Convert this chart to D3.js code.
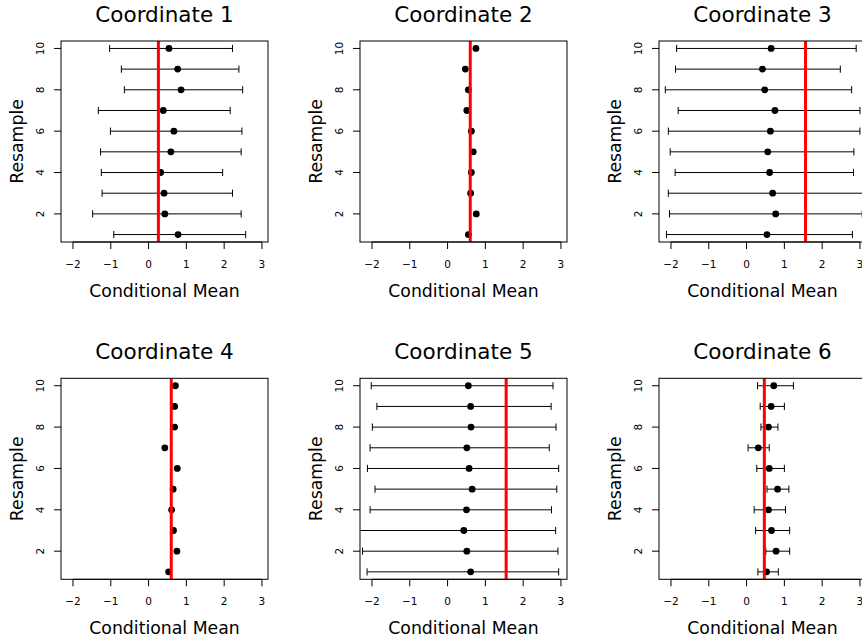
<!DOCTYPE html>
<html>
<head>
<meta charset="utf-8">
<script src="https://cdn.jsdelivr.net/npm/d3@7"></script>
<style>
  body { margin: 0; background: #fff; }
  text { font-family: "DejaVu Sans", sans-serif; fill: #000; }
</style>
</head>
<body>
<div id="chart"></div>
<script>
// resample index 1..10 (bottom to top)
const resample = [1, 2, 3, 4, 5, 6, 7, 8, 9, 10];
const titles = ["Coordinate 1", "Coordinate 2", "Coordinate 3", "Coordinate 4", "Coordinate 5", "Coordinate 6"];
const xTicks = [-2, -1, 0, 1, 2, 3];
const yTicks = [2, 4, 6, 8, 10];

// conditional mean per resample, one array per coordinate
const means = [
  [0.78, 0.43, 0.41, 0.32, 0.59, 0.67, 0.39, 0.86, 0.77, 0.54],
  [0.55, 0.76, 0.61, 0.63, 0.68, 0.63, 0.51, 0.55, 0.47, 0.75],
  [0.54, 0.77, 0.69, 0.61, 0.56, 0.63, 0.75, 0.48, 0.42, 0.65],
  [0.53, 0.75, 0.66, 0.61, 0.65, 0.76, 0.43, 0.69, 0.69, 0.71],
  [0.61, 0.51, 0.43, 0.50, 0.65, 0.57, 0.51, 0.62, 0.61, 0.55],
  [0.53, 0.78, 0.66, 0.58, 0.82, 0.60, 0.31, 0.58, 0.65, 0.72]
];
// interval ends (null = interval too narrow to show)
const lower = [
  [-0.92, -1.48, -1.23, -1.25, -1.27, -1.01, -1.33, -0.64, -0.72, -1.03],
  null,
  [-2.12, -2.04, -2.07, -1.89, -2.02, -2.07, -1.81, -2.15, -1.88, -1.85],
  null,
  [-2.13, -2.25, -2.45, -2.05, -1.92, -2.12, -2.05, -1.99, -1.87, -2.02],
  [0.30, 0.51, 0.24, 0.20, 0.54, 0.27, 0.04, 0.38, 0.36, 0.29]
];
const upper = [
  [2.57, 2.45, 2.22, 1.96, 2.45, 2.47, 2.16, 2.49, 2.39, 2.22],
  null,
  [2.80, 3.06, 3.08, 2.83, 2.84, 3.00, 3.00, 2.78, 2.48, 2.90],
  null,
  [2.94, 2.92, 2.86, 2.75, 2.89, 2.94, 2.69, 2.87, 2.74, 2.79],
  [0.84, 1.14, 1.14, 1.03, 1.12, 1.00, 0.60, 0.83, 1.00, 1.24]
];
// true value (red line)
const truth = [0.26, 0.60, 1.56, 0.60, 1.55, 0.47];

const W = 862, H = 644;
const boxW = 207, boxH = 201;
const colStep = 299, rowStep = 337.3;
const left0 = 61, top0 = 41;

const svg = d3.select("#chart").append("svg")
  .attr("width", W)
  .attr("height", H);

const x = d3.scaleLinear().domain([-2.317, 3.16]).range([0, boxW]);
const y = d3.scaleLinear().domain([0.64, 10.36]).range([boxH, 0]);

titles.forEach((title, i) => {
  const col = i % 3, row = Math.floor(i / 3);
  const left = left0 + col * colStep;
  const top = top0 + row * rowStep;

  const g = svg.append("g").attr("transform", `translate(${left},${top})`);

  g.append("clipPath").attr("id", "clip" + i)
    .append("rect").attr("width", boxW).attr("height", boxH);

  // x axis
  const xa = g.append("g").attr("transform", `translate(0,${boxH})`);
  xa.selectAll("line").data(xTicks).join("line")
    .attr("x1", d => x(d)).attr("x2", d => x(d))
    .attr("y1", 0).attr("y2", 7)
    .attr("stroke", "#000");
  xa.append("line")
    .attr("x1", x(-2)).attr("x2", x(3)).attr("stroke", "#000");
  xa.selectAll("text").data(xTicks).join("text")
    .attr("x", d => x(d)).attr("y", 26)
    .attr("text-anchor", "middle")
    .style("font-size", "10.5px")
    .text(d => d3.format("d")(d));

  // y axis
  const ya = g.append("g");
  ya.selectAll("line").data(yTicks).join("line")
    .attr("x1", -7).attr("x2", 0)
    .attr("y1", d => y(d)).attr("y2", d => y(d))
    .attr("stroke", "#000");
  ya.selectAll("text").data(yTicks).join("text")
    .attr("transform", d => `translate(-17.5,${y(d)}) rotate(-90)`)
    .attr("text-anchor", "middle")
    .style("font-size", "10.5px")
    .text(d => d);

  // error bars
  if (lower[i]) {
    const bars = g.append("g").attr("clip-path", `url(#clip${i})`)
      .attr("stroke", "#000").attr("stroke-width", 1);
    resample.forEach((r, j) => {
      const yy = y(r);
      bars.append("line")
        .attr("x1", x(lower[i][j])).attr("x2", x(upper[i][j]))
        .attr("y1", yy).attr("y2", yy);
      [lower[i][j], upper[i][j]].forEach(v => {
        bars.append("line")
          .attr("x1", x(v)).attr("x2", x(v))
          .attr("y1", yy - 3.6).attr("y2", yy + 3.6);
      });
    });
  }

  // points
  g.append("g").selectAll("circle").data(means[i]).join("circle")
    .attr("cx", d => x(d))
    .attr("cy", (d, j) => y(resample[j]))
    .attr("r", 3.4)
    .attr("fill", "#000");

  // red reference line
  g.append("line")
    .attr("x1", x(truth[i])).attr("x2", x(truth[i]))
    .attr("y1", 0).attr("y2", boxH)
    .attr("stroke", "#ff0000").attr("stroke-width", 3);

  // box
  g.append("rect")
    .attr("width", boxW).attr("height", boxH)
    .attr("fill", "none").attr("stroke", "#000").attr("stroke-width", 1);

  // labels
  g.append("text")
    .attr("x", boxW / 2).attr("y", -19)
    .attr("text-anchor", "middle")
    .style("font-size", "21.5px")
    .text(title);
  g.append("text")
    .attr("x", boxW / 2).attr("y", boxH + 54.5)
    .attr("text-anchor", "middle")
    .style("font-size", "17.3px")
    .text("Conditional Mean");
  g.append("text")
    .attr("transform", `translate(-38.5,${boxH / 2}) rotate(-90)`)
    .attr("text-anchor", "middle")
    .style("font-size", "17.3px")
    .text("Resample");
});
</script>
</body>
</html>
